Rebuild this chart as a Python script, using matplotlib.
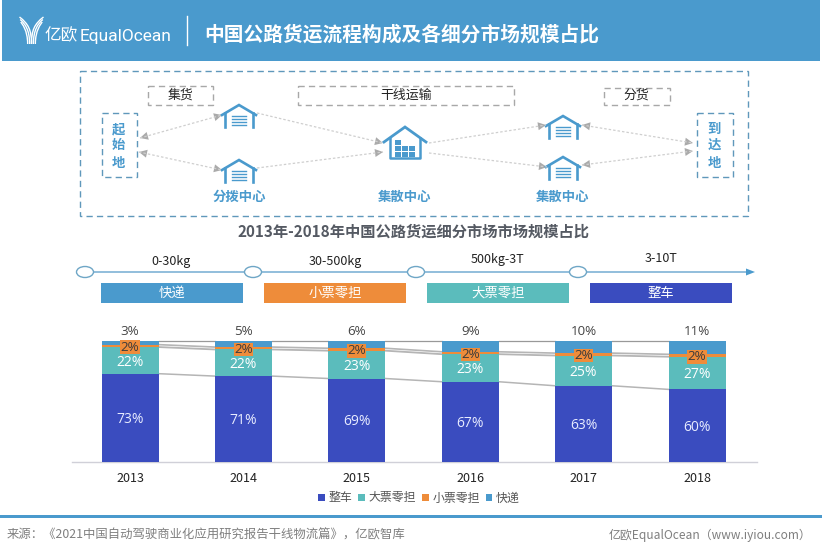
import matplotlib
matplotlib.use("Agg")
import matplotlib.pyplot as plt
import numpy as np
from matplotlib.patches import Rectangle, Ellipse, Polygon, PathPatch
from matplotlib.path import Path

plt.rcParams['font.family'] = ['Noto Sans CJK SC', 'DejaVu Sans']

# ---- data ----
years = ['2013', '2014', '2015', '2016', '2017', '2018']
truck = [73, 71, 69, 67, 63, 60]
large_ltl = [22, 22, 23, 23, 25, 27]
small_ltl = [2, 2, 2, 2, 2, 2]
express = [3, 5, 6, 9, 10, 11]
series_names = ['整车', '大票零担', '小票零担', '快递']

weight_labels = ['0-30kg', '30-500kg', '500kg-3T', '3-10T']
segment_names = ['快递', '小票零担', '大票零担', '整车']

C_HEAD = '#4a9acd'
C_TRUCK = '#3a4cbf'
C_LARGE = '#5bbcbc'
C_SMALL = '#ee8c3a'
C_EXPR = '#4a9acd'
C_DASH = '#5f98bb'

W, H = 822, 556
fig = plt.figure(figsize=(W / 100, H / 100), dpi=100, facecolor='white')

bg = fig.add_axes([0, 0, 1, 1])
bg.set_xlim(0, W)
bg.set_ylim(H, 0)
bg.axis('off')

# ---- header ----
bg.add_patch(Rectangle((2, 0), 818, 61, fc=C_HEAD, ec='none'))
for dx, top in [(0, 17), (3.2, 19.5), (6.4, 22)]:
    for s in (-1, 1):
        verts = [(31.5 + s * dx * 0.6, 44), (31.5 + s * dx * 0.6, 30),
                 (31.5 + s * (3 + dx), 24), (31.5 + s * (12 - dx * 0.2), top)]
        bg.add_patch(PathPatch(Path(verts, [Path.MOVETO, Path.CURVE4, Path.CURVE4, Path.CURVE4]),
                               fc='none', ec='white', lw=1.0))
bg.text(44, 36, '亿欧', color='white', fontsize=12, va='center', ha='left', fontweight='light')
bg.text(80, 36.5, 'EqualOcean', color='white', fontsize=12.5, va='center', ha='left',
        family=['Roboto', 'DejaVu Sans'])
bg.plot([186.5, 186.5], [16, 45], color='white', lw=1)
bg.text(204, 34.5, '中国公路货运流程构成及各细分市场规模占比', color='white', fontsize=14.2,
        fontweight='bold', va='center', ha='left')


# ---- process diagram ----
def dbox(x0, y0, x1, y1, color, lw=1.0):
    bg.add_patch(Rectangle((x0, y0), x1 - x0, y1 - y0, fc='none', ec=color, lw=lw,
                           linestyle=(0, (4.5, 3))))


dbox(80, 71, 748, 216, C_DASH, 1.0)
dbox(101.5, 113, 137, 177, C_DASH)
dbox(697, 113, 732.5, 177, C_DASH)
dbox(148, 86, 213, 105, '#a8a8a8')
dbox(298, 86, 514, 105, '#a8a8a8')
dbox(604, 87.5, 670, 105, '#a8a8a8')
for x, t in [(180, '集货'), (406, '干线运输'), (636, '分货')]:
    bg.text(x, 95.5, t, fontsize=9.3, color='#222222', ha='center', va='center')
for x, t in [(118, '起始地'), (714, '到达地')]:
    for y, ch in zip([129, 145, 163], t):
        bg.text(x, y, ch, fontsize=9.6, color=C_HEAD, ha='center', va='center', fontweight='bold')
for x, t in [(239, '分拨中心'), (405, '集散中心'), (563, '集散中心')]:
    bg.text(x, 197, t, fontsize=9.6, color=C_HEAD, ha='center', va='center', fontweight='bold')


def small_house(cx, top):
    bg.plot([cx - 17, cx, cx + 17], [top + 10, top, top + 10], color=C_HEAD, lw=1.9,
            solid_joinstyle='miter')
    for sx in (-1, 1):
        bg.plot([cx + sx * 14, cx + sx * 14], [top + 8, top + 22], color=C_HEAD, lw=1.9)
    for dy in (11, 14, 17, 20):
        bg.plot([cx - 7, cx + 7], [top + dy, top + dy], color=C_HEAD, lw=1.0)


for cx, top in [(239, 105), (239, 160), (563, 116), (563, 157)]:
    small_house(cx, top)

cx, top = 405, 127
bg.plot([cx - 21, cx, cx + 21], [top + 15, top, top + 15], color=C_HEAD, lw=2.0, solid_joinstyle='miter')
bg.plot([cx - 15, cx - 15, cx + 15, cx + 15], [top + 11, top + 31, top + 31, top + 11], color=C_HEAD, lw=1.8)
for rx, ry in [(-10, 13), (-10, 19), (-10, 25), (-3, 19), (-3, 25), (4, 19), (4, 25)]:
    bg.add_patch(Rectangle((cx + rx, top + ry), 5.5, 4.5, fc=C_HEAD, ec='none'))


def flow(p0, p1, start=False, end=True):
    bg.plot([p0[0], p1[0]], [p0[1], p1[1]], color='#cfcfcf', lw=0.9, linestyle=(0, (2, 1.6)))
    for on, tip, other in [(start, p0, p1), (end, p1, p0)]:
        if not on:
            continue
        tip = np.array(tip, float)
        d = tip - np.array(other, float)
        d /= np.hypot(*d)
        n = np.array([-d[1], d[0]])
        bg.add_patch(Polygon([tip, tip - 8 * d + 4 * n, tip - 8 * d - 4 * n], fc='#aaaaaa', ec='none'))


flow((140, 138), (222, 115), True, True)
flow((139, 152), (222, 170), True, True)
flow((257, 113), (383, 143))
flow((257, 168), (383, 152))
flow((429, 143), (546, 125))
flow((429, 153), (547, 167))
flow((582, 125), (693, 143), True, True)
flow((582, 165), (693, 151), True, True)

# ---- sub title ----
bg.text(413, 232, '2013年-2018年中国公路货运细分市场市场规模占比', color='#555a63', fontsize=11,
        fontweight='bold', ha='center', va='center')

# ---- timeline ----
bg.plot([85, 746], [272, 272], color='#7fb3d5', lw=1.2, zorder=1)
bg.add_patch(Polygon([(755, 272), (746, 268.5), (746, 275.5)], fc=C_HEAD, ec='none'))
for x in (85, 253, 416, 578):
    bg.add_patch(Ellipse((x, 272), 17, 11, fc='white', ec='#6ea6c6', lw=1, zorder=2))
for x, y, t in zip((171, 335, 498, 661), (261, 261, 260, 259), weight_labels):
    bg.text(x, y, t, fontsize=9, color='#222222', ha='center', va='center')
for x, t, c in zip((101, 264, 427, 590), segment_names, (C_EXPR, C_SMALL, C_LARGE, C_TRUCK)):
    bg.add_patch(Rectangle((x, 283), 142, 19.5, fc=c, ec='none'))
    bg.text(x + 71, 293, t, fontsize=9.6, color='white', ha='center', va='center', fontweight='medium')

# ---- stacked chart ----
ax = fig.add_axes([72 / W, 1 - 462 / H, (757 - 72) / W, (462 - 341) / H])
ax.patch.set_alpha(0)
spacing = 113.4
ax.set_xlim((72 - 130) / spacing, (757 - 130) / spacing)
ax.set_ylim(0, 1)

x = np.arange(len(years))
bar_w = 57 / spacing
stack = np.array([truck, large_ltl, small_ltl, express], float)
fractions = stack / stack.sum(axis=0)
bottoms = np.vstack([np.zeros(len(years)), np.cumsum(fractions, axis=0)])
colors = [C_TRUCK, C_LARGE, C_SMALL, C_EXPR]

handles = []
for i, name in enumerate(series_names):
    handles.append(ax.bar(x, fractions[i], bar_w, bottom=bottoms[i], color=colors[i], label=name, zorder=3))

for level, col, lw in [(1, '#b5b5b5', 1.1), (2, '#b5b5b5', 1.3), (3, '#b5b5b5', 1.2), (4, '#999999', 0.9)]:
    for j in range(len(years) - 1):
        ax.plot([x[j] + bar_w / 2, x[j + 1] - bar_w / 2], [bottoms[level][j], bottoms[level][j + 1]],
                color=col, lw=lw, zorder=2, clip_on=False)

label_font = ['Open Sans', 'DejaVu Sans']
for j in range(len(years)):
    ax.annotate(f'{truck[j]}%', (x[j], (bottoms[0][j] + bottoms[1][j]) / 2), xytext=(0, -1.2),
                textcoords='offset points', color='#e8ecff', fontsize=10,
                ha='center', va='center', zorder=5, family=label_font)
    ax.annotate(f'{large_ltl[j]}%', (x[j], (bottoms[1][j] + bottoms[2][j]) / 2), xytext=(0, -1.2),
                textcoords='offset points', color='white', fontsize=10,
                ha='center', va='center', zorder=5, family=label_font)
    ax.annotate(f'{small_ltl[j]}%', (x[j], (bottoms[2][j] + bottoms[3][j]) / 2), xytext=(0, -1.0),
                textcoords='offset points', color='#3a3a3a', fontsize=9.6,
                ha='center', va='center', zorder=5, family=label_font,
                bbox=dict(boxstyle='square,pad=0.02', fc=C_SMALL, ec='none'))
    ax.annotate(f'{express[j]}%', (x[j], 1), xytext=(0, 6.5), textcoords='offset points', color='#444444',
                fontsize=9.6, ha='center', va='center', zorder=5, family=label_font)

ax.set_xticks(x, years)
ax.tick_params(axis='x', length=0, pad=7, labelsize=9, colors='#222222')
ax.set_yticks([])
for s in ('top', 'left', 'right'):
    ax.spines[s].set_visible(False)
ax.spines['bottom'].set_color('#d0d0d8')
ax.spines['bottom'].set_linewidth(1)

ax.legend(handles=handles, loc='center', bbox_to_anchor=(419 / W, 1 - 498 / H), bbox_transform=fig.transFigure,
          ncol=4, frameon=False, fontsize=8.6, handlelength=0.55, handleheight=0.55, handletextpad=0.3,
          columnspacing=0.5, labelcolor='#555555', borderpad=0)

# ---- footer ----
bg.add_patch(Rectangle((0, 515.3), W, 3, fc=C_HEAD, ec='none'))
bg.text(7, 535.5, '来源：《2021中国自动驾驶商业化应用研究报告干线物流篇》，亿欧智库', color='#7f7f7f',
        fontsize=8.9, ha='left', va='center')
bg.text(811, 535.5, '亿欧EqualOcean（www.iyiou.com）', color='#7f7f7f', fontsize=8.6, ha='right', va='center')

fig.savefig('out.png', dpi=100, facecolor='white')
